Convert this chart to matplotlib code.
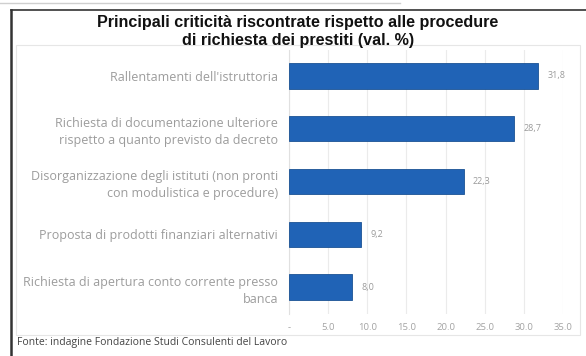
import matplotlib.pyplot as plt
from matplotlib.patches import Rectangle
from matplotlib.lines import Line2D

categories = [
    "Rallentamenti dell'istruttoria",
    "Richiesta di documentazione ulteriore\nrispetto a quanto previsto da decreto",
    "Disorganizzazione degli istituti (non pronti\ncon modulistica e procedure)",
    "Proposta di prodotti finanziari alternativi",
    "Richiesta di apertura conto corrente presso\nbanca",
]
values = [31.8, 28.7, 22.3, 9.2, 8.0]
ticks = [0, 5, 10, 15, 20, 25, 30, 35]
tick_labels = ["-", "5.0", "10.0", "15.0", "20.0", "25.0", "30.0", "35.0"]

W, H = 586, 356
fig = plt.figure(figsize=(W / 100, H / 100), dpi=100)
fig.patch.set_facecolor("white")

# outer frame (cut off at right/bottom like the clipping)
fig.add_artist(Line2D([0, 400 / W], [1 - 3 / H, 1 - 3 / H], color="#cfcfcf", lw=1))
fig.add_artist(Line2D([11 / W, 1], [1 - 10 / H, 1 - 10 / H], color="#333333", lw=1.2))
fig.add_artist(Line2D([11 / W, 11 / W], [0, 1 - 10 / H], color="#333333", lw=1.8))
# inner chart box
fig.add_artist(Rectangle((16 / W, 1 - 335 / H), (580 - 16) / W, (335 - 45) / H,
                         facecolor="none", edgecolor="#e6e6e6", lw=0.8))

fig.text(298 / W, 1 - 23 / H, "Principali criticità riscontrate rispetto alle procedure",
         ha="center", va="center", fontsize=11.6, fontweight="bold",
         family="Liberation Sans", color="#111111")
fig.text(298 / W, 1 - 40 / H, "di richiesta dei prestiti (val. %)",
         ha="center", va="center", fontsize=11.6, fontweight="bold",
         family="Liberation Sans", color="#111111")

ax = fig.add_axes([289 / W, 1 - 313.5 / H, (563 - 289) / W, (313.5 - 49.5) / H])
ax.set_facecolor("none")
y = list(range(len(categories)))
ax.barh(y, values, height=0.48, color="#2063b6", edgecolor="#1a5294", lw=0.6, zorder=3)
for yi, v in zip(y, values):
    ax.text(v + 1.2, yi, f"{v:.1f}".replace(".", ","), va="center", ha="left",
            fontsize=6.5, color="#9a9a9a", family="Open Sans")

ax.set_ylim(4.5, -0.5)
ax.set_xlim(0, 35)
ax.set_xticks(ticks)
ax.set_xticklabels(tick_labels, fontsize=6.8, color="#a3a3a3", family="Open Sans")
ax.set_yticks(y)
ax.set_yticklabels(categories, fontsize=9, color="#9c9c9c", family="Open Sans",
                   linespacing=1.4)
ax.tick_params(axis="y", length=0, pad=8)
ax.tick_params(axis="x", length=0, pad=7)
ax.grid(axis="x", color="#ebebeb", lw=0.8, zorder=0)
for s in ["top", "right", "bottom"]:
    ax.spines[s].set_visible(False)
ax.spines["left"].set_color("#e0e0e0")
ax.spines["left"].set_linewidth(0.8)

fig.text(17 / W, 1 - 343 / H, "Fonte: indagine Fondazione Studi Consulenti del Lavoro",
         ha="left", va="center", fontsize=7.5, color="#444444", family="Open Sans")

fig.savefig("out.png", dpi=100, facecolor="white")
